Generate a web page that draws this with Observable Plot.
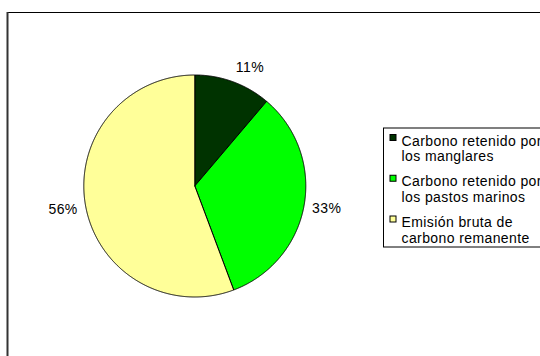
<!DOCTYPE html>
<html><head><meta charset="utf-8">
<script src="https://cdn.jsdelivr.net/npm/d3@7"></script>
<script src="https://cdn.jsdelivr.net/npm/@observablehq/plot@0.6"></script>
<style>body{margin:0;background:#fff}</style>
</head><body><div id="chart"></div>
<script>
// ---- data ----
const categories = ["Carbono retenido por los manglares", "Carbono retenido por los pastos marinos", "Emisión bruta de carbono remanente"];
const legendLines = [["Carbono retenido por", "los manglares"], ["Carbono retenido por", "los pastos marinos"], ["Emisión bruta de", "carbono remanente"]];
const values = [11.2, 33.1, 55.7];
const colors = ["#003300", "#00ff00", "#ffff99"];

// ---- layout ----
const W = 540, H = 356;
const cx = 194.3, cy = 185.5, r = 111;
const FS = 14;

const total = d3.sum(values);
let acc = 0;
const slices = values.map((v, i) => {
  const a0 = acc / total * 2 * Math.PI; acc += v;
  const a1 = acc / total * 2 * Math.PI;
  return {i, v, a0, a1};
});
function slicePoly(s) {
  const pts = [{x: cx, y: cy}];
  const n = Math.max(2, Math.ceil((s.a1 - s.a0) / (Math.PI / 720)));
  for (let k = 0; k <= n; k++) {
    const a = s.a0 + (s.a1 - s.a0) * k / n;
    pts.push({x: cx + r * Math.sin(a), y: cy - r * Math.cos(a)});
  }
  pts.push({x: cx, y: cy});
  return pts;
}
const labelMarks = slices.map(s => {
  const m = (s.a0 + s.a1) / 2, sn = Math.sin(m), cs = Math.cos(m), d = 119;
  const ta = sn > 0.1 ? "start" : sn < -0.1 ? "end" : "middle";
  const la = cs > 0.5 ? "bottom" : cs < -0.5 ? "top" : "middle";
  const dy = la === "bottom" ? -2 : la === "middle" ? 2.5 : 0;
  return Plot.text([{x: cx + d * sn, y: cy - d * cs, t: Math.round(s.v / total * 100) + "%"}],
    {x: "x", y: "y", text: "t", textAnchor: ta, lineAnchor: la, dy, fontSize: FS, fill: "black"});
});

const legTop = 128, legBottom = 247, legLeft = 383.5, firstBase = 144, step = 40.75;
const legItems = categories.map((c, i) => ({i, c, base: firstBase + i * step, lines: legendLines[i].join("\n"), color: colors[i]}));

const plot = Plot.plot({
  width: W, height: H, margin: 0,
  x: {domain: [0, W], range: [0, W], axis: null},
  y: {domain: [0, H], range: [0, H], axis: null},
  color: {type: "identity"},
  style: {fontFamily: "Arial, 'Liberation Sans', sans-serif", fontSize: "14px", letterSpacing: "0.4px", overflow: "hidden", background: "white"},
  marks: [
    Plot.frame({stroke: "black", insetLeft: 7, insetTop: 12, insetRight: -10, insetBottom: -10}),
    Plot.ruleX([7], {y1: 12, y2: H, stroke: "#333", strokeWidth: 2}),
    ...slices.map(s => Plot.line(slicePoly(s), {x: "x", y: "y", fill: colors[s.i], stroke: "black", strokeWidth: 1, curve: "linear"})),
    ...labelMarks,
    Plot.rect([0], {x1: legLeft, x2: 600, y1: legTop, y2: legBottom, fill: "white", stroke: "black", strokeWidth: 1}),
    Plot.rect(legItems, {x1: 390, x2: 396, y1: d => d.base - 9.5, y2: d => d.base - 3.5, fill: "color", stroke: "black", strokeWidth: 1}),
    Plot.text(legItems, {x: 401, y: d => d.base - 0.71 * FS, text: "lines", textAnchor: "start", lineAnchor: "top", lineHeight: 15.5 / FS, fontSize: FS, fill: "black"})
  ]
});
document.getElementById("chart").appendChild(plot);
</script>
</body></html>
